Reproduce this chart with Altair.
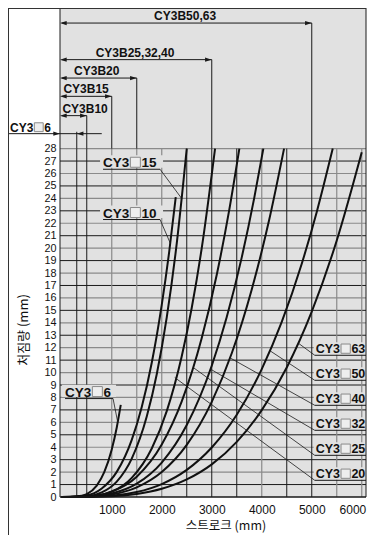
import altair as alt
import pandas as pd

# ---------------- data ----------------
x_tick_values = [1000, 2000, 3000, 4000, 5000, 6000]
y_tick_values = list(range(0, 29))

curve_names = ["CY3□6", "CY3□10", "CY3□15", "CY3□20", "CY3□25",
               "CY3□32", "CY3□40", "CY3□50", "CY3□63"]
stroke_6 = [0, 300, 500, 700, 850, 1000, 1100, 1180]
defl_6 = [0, 0.03, 0.24, 0.92, 1.99, 3.82, 5.59, 7.4]
stroke_10 = [0, 500, 800, 1100, 1400, 1600, 1800, 2000, 2150, 2280]
defl_10 = [0, 0.14, 0.69, 2.02, 4.59, 7.23, 10.79, 15.44, 19.74, 24.1]
stroke_15 = [0, 500, 800, 1100, 1400, 1700, 1900, 2100, 2300, 2500]
defl_15 = [0, 0.06, 0.37, 1.24, 3.09, 6.47, 9.87, 14.43, 20.39, 28]
stroke_20 = [0, 500, 1000, 1400, 1800, 2100, 2400, 2600, 2800, 3066]
defl_20 = [0, 0.03, 0.44, 1.54, 3.90, 6.90, 11.31, 15.21, 20.01, 28]
stroke_25 = [0, 500, 1000, 1500, 2000, 2400, 2800, 3100, 3350, 3552]
defl_25 = [0, 0.04, 0.43, 1.63, 4.21, 7.68, 12.77, 17.86, 23.08, 28]
stroke_32 = [0, 500, 1000, 1500, 2000, 2500, 3000, 3300, 3600, 3850, 4032]
defl_32 = [0, 0.03, 0.28, 1.07, 2.77, 5.78, 10.55, 14.46, 19.26, 24.04, 28]
stroke_40 = [0, 500, 1000, 1500, 2000, 2500, 3000, 3400, 3800, 4150, 4446]
defl_40 = [0, 0.02, 0.20, 0.78, 2.01, 4.19, 7.65, 11.55, 16.68, 22.30, 28]
stroke_50 = [0, 1000, 1500, 2000, 2500, 3000, 3500, 4000, 4400, 4800, 5100, 5420]
defl_50 = [0, 0.11, 0.40, 1.04, 2.18, 3.98, 6.61, 10.28, 14.07, 18.75, 22.91, 28]
stroke_63 = [0, 1000, 1500, 2000, 2500, 3000, 3500, 4000, 4500, 5000, 5500, 6000]
defl_63 = [0, 0.06, 0.25, 0.66, 1.41, 2.62, 4.43, 6.98, 10.41, 14.90, 20.61, 27.7]

# right-hand labels ("CY3" + box + bore size)
right_sizes = ["63", "50", "40", "32", "25", "20"]
right_label_y = [11.39, 9.38, 7.37, 5.36, 3.35, 1.34]      # underline level
right_leader_x = [4732, 4166, 3366, 2966, 2632, 2260]       # point on curve
right_leader_y = [12.36, 11.75, 11.18, 10.3, 10.4, 9.6]
right_label_x = 5060

# left-hand labels
left_sizes = ["15", "10", "6"]
left_label_x = [826, 826, 66]
left_label_y = [26.34, 22.30, 7.91]                          # underline level
left_underline_end = [1966, 1966, 1026]
left_leader_x = [2400, 2170, 1120]
left_leader_y = [23.98, 20.4, 6.0]

# stroke range dimensions (top area)
range_labels = ["CY3B50,63", "CY3B25,32,40", "CY3B20", "CY3B15", "CY3B10"]
range_end = [5000, 3000, 1500, 1000, 500]
range_level = [38.09, 35.15, 33.67, 32.20, 30.65]
range_label_x = [2466, 1466, 700, 486, 466]
six_level = 29.2

# grid lines
vgrid_black = [300, 500, 2500, 3000, 3500, 4500, 5000]
vgrid_gray = [1000, 1500, 2000, 4000, 5500, 6000]
hgrid_black = [v for v in range(1, 29) if v % 2 == 1]
hgrid_gray = [v for v in range(1, 29) if v % 2 == 0]

BG = "#e1e1e1"
DARK = "#1a1a1a"
GRAY = "#8a8a8a"
XMIN, XMAX = -35, 6085
YMAX = 39.3
PX = 20.0          # mm per pixel on x
PY = 1 / 12.443    # deflection per pixel on y

xs = alt.Scale(domain=[XMIN, XMAX], nice=False, zero=False)
ys = alt.Scale(domain=[0, YMAX], nice=False, zero=False)

AXX = alt.Axis(values=x_tick_values, format="d", grid=False, ticks=False,
               domain=False, labelFontSize=12, labelPadding=7,
               labelFont="Liberation Sans", labelColor="#111", title=None,
               labelFlush=8, labelFlushOffset=4)
AXY = alt.Axis(values=y_tick_values, format="d", grid=False, ticks=False,
               domain=False, labelFontSize=10.8, labelPadding=4,
               labelFont="Liberation Sans", labelColor="#111", title=None,
               labelBaseline="middle", labelFlush=False, labelOverlap=False)


def X(f):
    return alt.X(f + ":Q", scale=xs, axis=AXX)


def Y(f):
    return alt.Y(f + ":Q", scale=ys, axis=AXY)


# ---------------- build tables ----------------
curve_rows = []
for name, sx, sy in zip(curve_names,
                        [stroke_6, stroke_10, stroke_15, stroke_20, stroke_25,
                         stroke_32, stroke_40, stroke_50, stroke_63],
                        [defl_6, defl_10, defl_15, defl_20, defl_25,
                         defl_32, defl_40, defl_50, defl_63]):
    for a, b in zip(sx, sy):
        curve_rows.append({"series": name, "stroke": a, "defl": b})
curves_df = pd.DataFrame(curve_rows)

bg = alt.Chart(pd.DataFrame({"x1": [XMIN], "x2": [XMAX], "y1": [0], "y2": [YMAX]})).mark_rect(
    color=BG).encode(x=X("x1"), x2="x2", y=Y("y1"), y2="y2")

hg = pd.DataFrame([{"y": v, "x1": XMIN, "x2": XMAX} for v in hgrid_black])
hgg = pd.DataFrame([{"y": v, "x1": XMIN, "x2": XMAX} for v in hgrid_gray])
vg = pd.DataFrame([{"x": v, "y1": 0, "y2": 28} for v in vgrid_black])
vgg = pd.DataFrame([{"x": v, "y1": 0, "y2": 28} for v in vgrid_gray])
dim_ext = pd.DataFrame({"x": [300] + range_end, "y1": [28] * 6,
                        "y2": [six_level + 0.15] + range_level})

h_rules_k = alt.Chart(hg).mark_rule(strokeWidth=1, color=DARK).encode(
    x=X("x1"), x2="x2", y=Y("y"))
h_rules_g = alt.Chart(hgg).mark_rule(strokeWidth=1.2, color=GRAY).encode(
    x=X("x1"), x2="x2", y=Y("y"))
v_rules_k = alt.Chart(vg).mark_rule(strokeWidth=1, color=DARK).encode(
    x=X("x"), y=Y("y1"), y2="y2")
v_rules_g = alt.Chart(vgg).mark_rule(strokeWidth=1.2, color=GRAY).encode(
    x=X("x"), y=Y("y1"), y2="y2")
ext_rules = alt.Chart(dim_ext).mark_rule(strokeWidth=1, color=DARK).encode(
    x=X("x"), y=Y("y1"), y2="y2")
x_axis_line = alt.Chart(pd.DataFrame({"x1": [XMIN], "x2": [XMAX], "y": [0]})).mark_rule(
    strokeWidth=1.2, color=DARK).encode(x=X("x1"), x2="x2", y=Y("y"))
frame_plot = alt.Chart(pd.DataFrame({"x1": [XMIN], "x2": [XMAX], "y1": [0], "y2": [YMAX]})).mark_rect(
    fillOpacity=0, stroke=DARK, strokeWidth=1).encode(x=X("x1"), x2="x2", y=Y("y1"), y2="y2")

# masks behind labels
mask_rows = []
for lvl in right_label_y:
    mask_rows.append({"x1": right_label_x - 20, "x2": XMAX, "y1": lvl + 0.05, "y2": lvl + 1.05})
for lx, lvl, le in zip(left_label_x, left_label_y, left_underline_end):
    mask_rows.append({"x1": lx - 60, "x2": le + 60, "y1": lvl + 0.12, "y2": lvl + 1.12})
masks = alt.Chart(pd.DataFrame(mask_rows)).mark_rect(color=BG).encode(
    x=X("x1"), x2="x2", y=Y("y1"), y2="y2")

curves = alt.Chart(curves_df).mark_line(
    color="#111", strokeWidth=2, interpolate="monotone").encode(
    x=X("stroke"), y=Y("defl"), detail="series:N", order="stroke:Q")

# underlines and leaders
ul_rows = []
for lvl in right_label_y:
    ul_rows.append({"x1": right_label_x, "x2": XMAX, "y1": lvl})
for lx, lvl, le in zip(left_label_x, left_label_y, left_underline_end):
    ul_rows.append({"x1": lx, "x2": le, "y1": lvl})
underlines = alt.Chart(pd.DataFrame(ul_rows)).mark_rule(color=DARK, strokeWidth=1).encode(
    x=X("x1"), x2="x2", y=Y("y1"))

ld_rows = []
for i in range(len(right_sizes)):
    ld_rows.append({"x1": right_leader_x[i], "y1": right_leader_y[i],
                    "x2": right_label_x, "y2": right_label_y[i]})
for i in range(len(left_sizes)):
    ld_rows.append({"x1": left_underline_end[i], "y1": left_label_y[i],
                    "x2": left_leader_x[i], "y2": left_leader_y[i]})
leaders = alt.Chart(pd.DataFrame(ld_rows)).mark_rule(color=DARK, strokeWidth=0.8).encode(
    x=X("x1"), y=Y("y1"), x2="x2", y2="y2")


# curve labels: "CY3" text, placeholder box, bore size text
def label_parts(xs_, ys_, nums, fs):
    k = fs / 13.5
    pre = pd.DataFrame({"x": xs_, "y": ys_, "t": ["CY3"] * len(xs_)})
    num = pd.DataFrame({"x": [v + 38.5 * k * PX for v in xs_], "y": ys_, "t": nums})
    box = pd.DataFrame({"x1": [v + 27.3 * k * PX for v in xs_],
                        "x2": [v + 37.3 * k * PX for v in xs_],
                        "y1": [v + 2 * PY for v in ys_],
                        "y2": [v + (2 + 10 * k) * PY for v in ys_]})
    kw = dict(align="left", baseline="alphabetic", dy=-2, fontSize=fs, fontWeight="bold",
              font="Liberation Sans", color="#111")
    return [
        alt.Chart(pre).mark_text(**kw).encode(x=X("x"), y=Y("y"), text="t:N"),
        alt.Chart(box).mark_rect(fill="#eeeeee", stroke="#8a8a8a", strokeWidth=1).encode(
            x=X("x1"), x2="x2", y=Y("y1"), y2="y2"),
        alt.Chart(num).mark_text(**kw).encode(x=X("x"), y=Y("y"), text="t:N"),
    ]


right_parts = label_parts([right_label_x + 20] * len(right_sizes), right_label_y, right_sizes, 12.5)
left_parts = label_parts(left_label_x, left_label_y, left_sizes, 13.5)

# dimension arrows
arr_df = pd.DataFrame({"x1": [0] * 5, "x2": range_end, "y": range_level})
arr_lines = alt.Chart(arr_df).mark_rule(color=DARK, strokeWidth=1).encode(
    x=X("x1"), x2="x2", y=Y("y"))
heads_l = pd.DataFrame({"x": [XMIN] * 5 + [300], "y": range_level + [six_level]})
heads_r = pd.DataFrame({"x": range_end + [XMIN], "y": range_level + [six_level]})
LEFT_HEAD = "M0,0 L1,-0.32 L1,0.32 Z"
RIGHT_HEAD = "M0,0 L-1,-0.32 L-1,0.32 Z"
arr_l = alt.Chart(heads_l).mark_point(shape=LEFT_HEAD, filled=True, color=DARK,
                                      size=180, opacity=1).encode(x=X("x"), y=Y("y"))
arr_r = alt.Chart(heads_r).mark_point(shape=RIGHT_HEAD, filled=True, color=DARK,
                                      size=180, opacity=1).encode(x=X("x"), y=Y("y"))
six_line = alt.Chart(pd.DataFrame({"x1": [-1054], "x2": [800], "y": [six_level]})).mark_rule(
    color=DARK, strokeWidth=1).encode(x=X("x1"), x2="x2", y=Y("y"))

rl_df = pd.DataFrame({"x": range_label_x, "y": range_level, "t": range_labels})
range_text = alt.Chart(rl_df).mark_text(
    align="center", baseline="alphabetic", dy=-3, fontSize=12, fontWeight="bold",
    font="Liberation Sans", color="#111").encode(x=X("x"), y=Y("y"), text="t:N")
six_parts = label_parts([-1034], [six_level], ["6"], 12)

# frame and axis titles
frame_l = alt.Chart(pd.DataFrame({"a": [0]})).mark_rule(color="#333", strokeWidth=1).encode(
    x=alt.value(-51.5), y=alt.value(0), y2=alt.value(530))
frame_t = alt.Chart(pd.DataFrame({"a": [0]})).mark_rule(color="#333", strokeWidth=1).encode(
    x=alt.value(-51.5), x2=alt.value(306), y=alt.value(0.5))
xtitle = alt.Chart(pd.DataFrame({"t": ["스트로크 (mm)"]})).mark_text(
    fontSize=12.5, font="Noto Sans CJK KR", color="#111", baseline="alphabetic").encode(
    x=alt.value(166), y=alt.value(522), text="t:N")
ytitle = alt.Chart(pd.DataFrame({"t": ["처짐량 (mm)"]})).mark_text(
    fontSize=13, font="Noto Sans CJK KR", color="#111", angle=270, baseline="middle").encode(
    x=alt.value(-36), y=alt.value(322), text="t:N")

chart = alt.layer(
    bg, h_rules_g, h_rules_k, v_rules_g, v_rules_k, ext_rules, x_axis_line, masks,
    curves, leaders, underlines, *right_parts, *left_parts,
    arr_lines, six_line, arr_l, arr_r, range_text, *six_parts,
    frame_plot, frame_l, frame_t, xtitle, ytitle
).properties(
    width=306, height=489,
    padding={"left": 52, "top": 0, "right": 1, "bottom": 38},
    autosize=alt.AutoSizeParams(type="none"),
).configure_view(stroke=None)

chart.save("out.html", embed_options={"renderer": "svg", "actions": False})
